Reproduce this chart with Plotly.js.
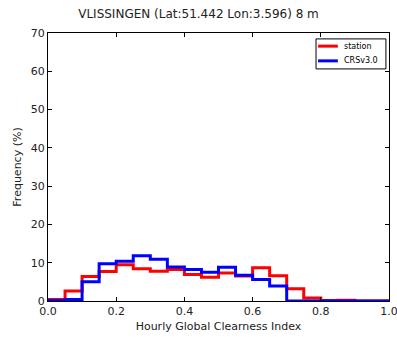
<!DOCTYPE html>
<html><head><meta charset="utf-8">
<script src="https://cdn.plot.ly/plotly-3.0.1.min.js"></script>
<style>body{margin:0;background:#fff}#c{width:397px;height:337px}</style>
</head><body><div id="c"></div>
<script>
var binEdges = [0,0.05,0.1,0.15,0.2,0.25,0.3,0.35,0.4,0.45,0.5,0.55,0.6,0.65,0.7,0.75,0.8,0.85,0.9,0.95,1.0];
var stationFreq = [0.4,2.6,6.4,7.7,9.5,8.4,7.8,8.2,6.9,6.2,7.3,6.5,8.7,6.6,3.2,0.8,0.1,0.2,0,0];
var crsFreq = [0.1,0.4,5.0,9.7,10.4,11.8,10.9,8.9,8.2,7.5,8.8,6.7,5.6,3.9,0,0,0,0,0,0];
var seriesNames = ['station','CRSv3.0'];
var seriesColors = ['#ff0000','#0000ff'];
var xTicks = [0,0.2,0.4,0.6,0.8,1.0];
var xTickText = ['0.0','0.2','0.4','0.6','0.8','1.0'];
var yTicks = [0,10,20,30,40,50,60,70];

function stepXY(edges, vals){
  var x=[edges[0]], y=[0];
  for(var i=0;i<vals.length;i++){ x.push(edges[i]); y.push(vals[i]); }
  x.push(edges[edges.length-1]); y.push(vals[vals.length-1]);
  x.push(edges[edges.length-1]); y.push(0);
  return {x:x,y:y};
}
var data = [stationFreq, crsFreq];
var traces = data.map(function(v,i){
  var p = stepXY(binEdges, v);
  return {x:p.x, y:p.y, mode:'lines', line:{shape:'hv', color:seriesColors[i], width:3}, name:seriesNames[i], showlegend:false};
});

// legend drawn as shapes + annotations (compact, like matplotlib)
var shapes = [{type:'rect', xref:'paper', yref:'paper', x0:0.786, x1:0.991, y0:0.866, y1:0.978, line:{color:'#000', width:1}, fillcolor:'#fff', layer:'above'}];
var annotations = [];
var rowY = [0.951, 0.896];
seriesNames.forEach(function(n,i){
  shapes.push({type:'line', xref:'paper', yref:'paper', x0:0.792, x1:0.850, y0:rowY[i], y1:rowY[i], line:{color:seriesColors[i], width:3}, layer:'above'});
  annotations.push({xref:'paper', yref:'paper', x:0.862, y:rowY[i], xanchor:'left', yanchor:'middle', text:n, showarrow:false, font:{family:'DejaVu Sans', size:8, color:'#000'}});
});

var axisCommon = {showgrid:false, zeroline:false, showline:true, linecolor:'#000', linewidth:1, mirror:'ticks', ticks:'inside', ticklen:4, tickcolor:'#000', ticklabeloverflow:'allow', tickfont:{family:'DejaVu Sans', size:11, color:'#222'}};
var layout = {
  width:397, height:337,
  margin:{l:48, r:8, t:33, b:36},
  paper_bgcolor:'#fff', plot_bgcolor:'#fff',
  title:{text:'VLISSINGEN (Lat:51.442 Lon:3.596) 8 m', font:{family:'DejaVu Sans', size:12, color:'#222', weight:'normal'}, x:0.5, xanchor:'center', y:0.96, yanchor:'middle'},
  xaxis:Object.assign({}, axisCommon, {range:[0,1], tickvals:xTicks, ticktext:xTickText, title:{text:'Hourly Global Clearness Index', font:{family:'DejaVu Sans', size:11, color:'#222'}, standoff:5}}),
  yaxis:Object.assign({}, axisCommon, {range:[0,70], tickvals:yTicks, title:{text:'Frequency (%)', font:{family:'DejaVu Sans', size:11, color:'#222'}, standoff:6}}),
  showlegend:false,
  shapes:shapes,
  annotations:annotations
};
Plotly.newPlot('c', traces, layout, {displayModeBar:false, staticPlot:true});
</script></body></html>
